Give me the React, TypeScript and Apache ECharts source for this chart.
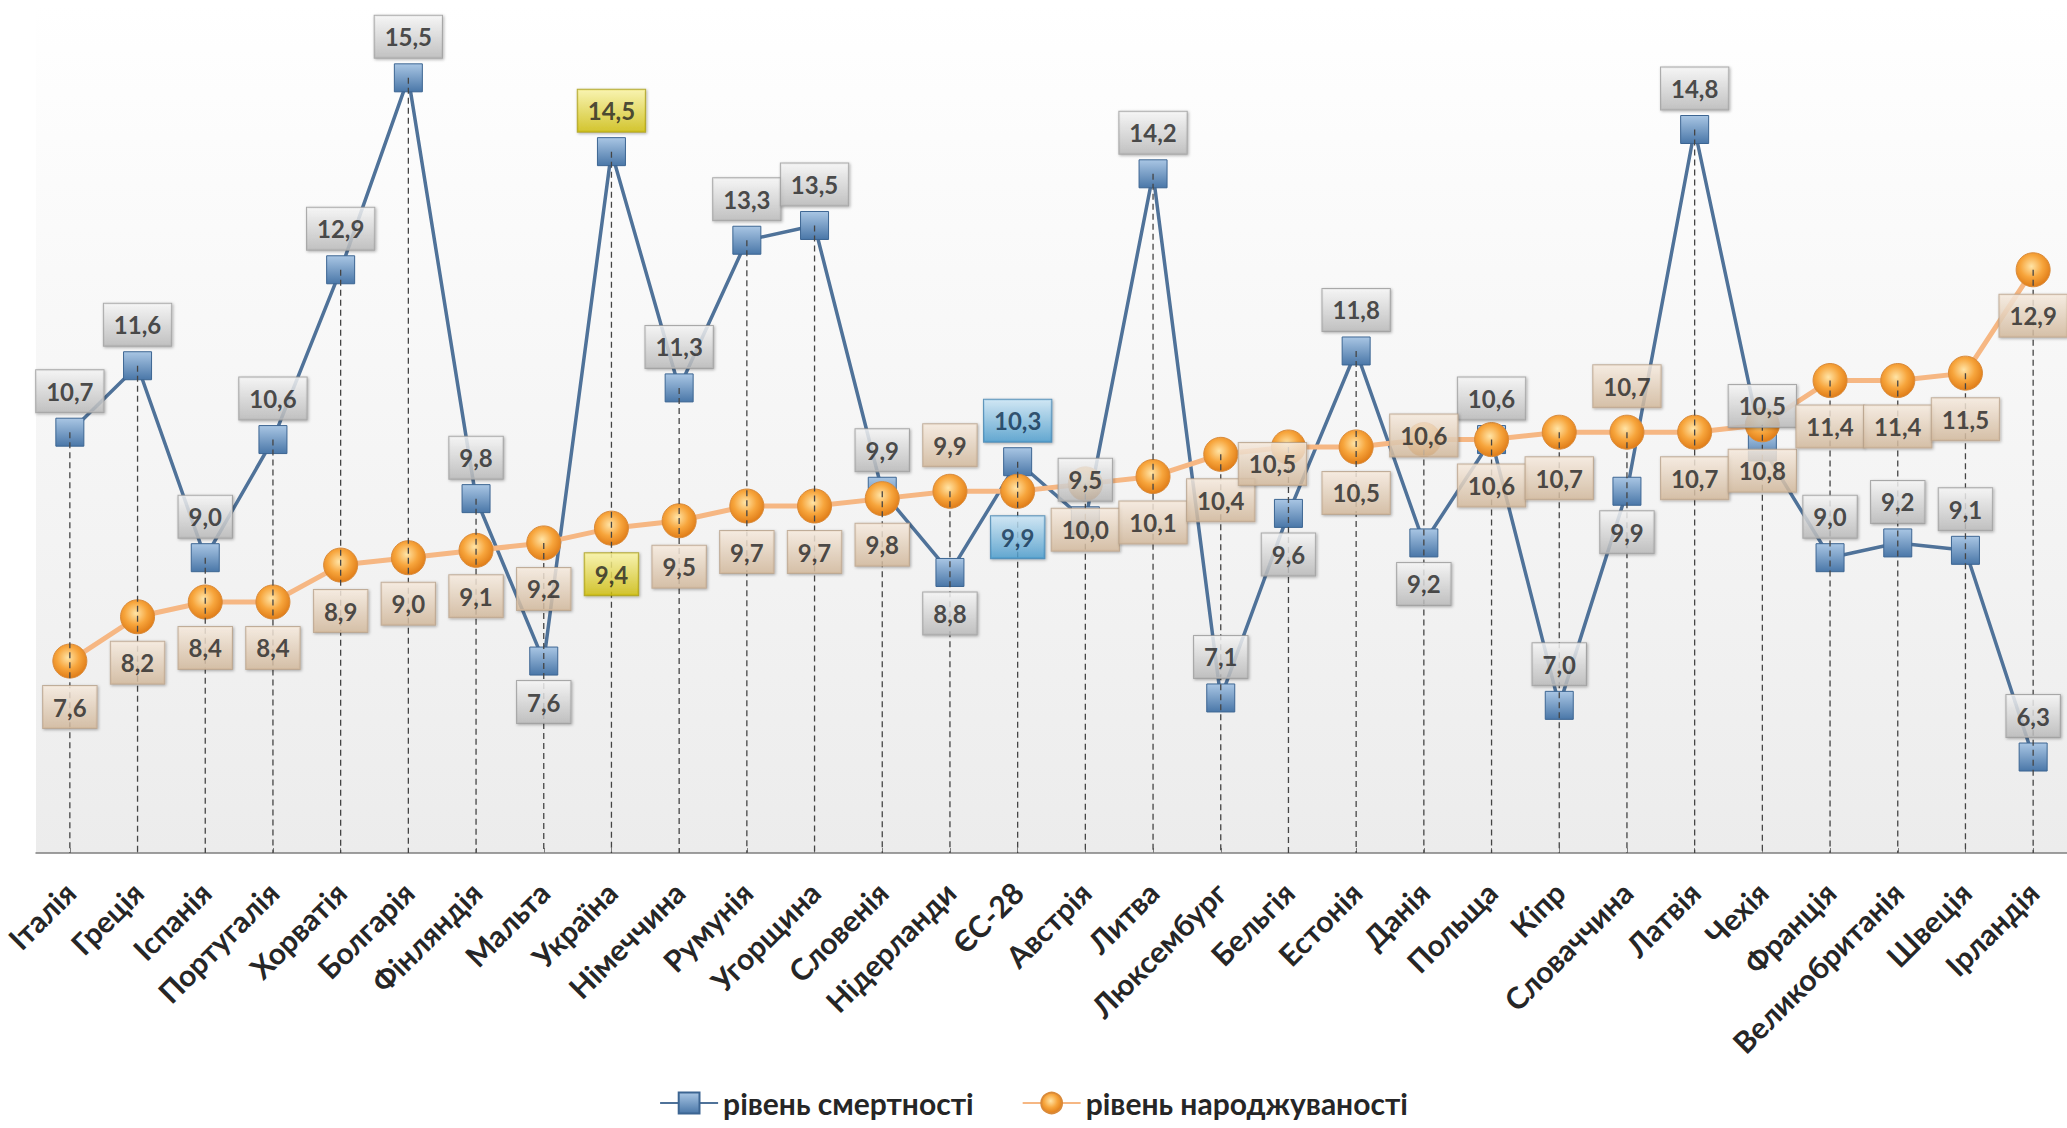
import React, { useEffect, useRef } from "react";
import * as echarts from "echarts";

const categories = [
  "Італія", "Греція", "Іспанія", "Португалія", "Хорватія", "Болгарія", "Фінляндія", "Мальта",
  "Україна", "Німеччина", "Румунія", "Угорщина", "Словенія", "Нідерланди", "ЄС-28", "Австрія",
  "Литва", "Люксембург", "Бельгія", "Естонія", "Данія", "Польща", "Кіпр", "Словаччина",
  "Латвія", "Чехія", "Франція", "Великобританія", "Швеція", "Ірландія",
];

const deathRate = [
  10.7, 11.6, 9.0, 10.6, 12.9, 15.5, 9.8, 7.6, 14.5, 11.3, 13.3, 13.5, 9.9, 8.8, 10.3,
  9.5, 14.2, 7.1, 9.6, 11.8, 9.2, 10.6, 7.0, 9.9, 14.8, 10.5, 9.0, 9.2, 9.1, 6.3,
];

const birthRate = [
  7.6, 8.2, 8.4, 8.4, 8.9, 9.0, 9.1, 9.2, 9.4, 9.5, 9.7, 9.7, 9.8, 9.9, 9.9,
  10.0, 10.1, 10.4, 10.5, 10.5, 10.6, 10.6, 10.7, 10.7, 10.7, 10.8, 11.4, 11.4, 11.5, 12.9,
];

const seriesNames = ["рівень смертності", "рівень народжуваності"];

// label placement exceptions (by category)
const deathBelow = ["Мальта", "Нідерланди", "Бельгія", "Данія", "Словаччина"];
const birthAbove = ["Нідерланди", "Словаччина"];
const birthInside: Record<string, number[]> = { "Данія": [0, -4], "Бельгія": [-16, 17] };
const highlightYellow = "Україна";
const highlightBlue = "ЄС-28";

const FONT = "Lato, 'Noto Sans', sans-serif";
const fmt = (v: number) => v.toFixed(1).replace(".", ",");

const grad = (a: string, b: string) =>
  new echarts.graphic.LinearGradient(0, 0, 0, 1, [
    { offset: 0, color: a },
    { offset: 1, color: b },
  ]);

const greyBox = () => grad("#fbfbfb", "#bdbdbd");
const beigeBox = () => grad("#fcf0e3", "#d6bc9f");
const yellowBox = () => grad("#fff9a8", "#d2c10e");
const blueBox = () => grad("#cfeafa", "#4d9fd0");

const baseLabel = {
  show: true,
  fontFamily: FONT,
  fontWeight: "bold" as const,
  fontSize: 24,
  lineHeight: 26,
  color: "#222",
  padding: [8, 10, 8, 10],
  borderColor: "#9a9a9a",
  borderWidth: 1,
  shadowColor: "rgba(0,0,0,0.35)",
  shadowBlur: 3,
  shadowOffsetX: 1,
  shadowOffsetY: 1,
};

export default function App() {
  const ref = useRef<HTMLDivElement>(null);

  useEffect(() => {
    document.body.style.margin = "0";
    if (!ref.current) return;
    const chart = echarts.init(ref.current, undefined, { renderer: "svg" });

    const deathLabels = deathRate.map((v, i) => {
      const c = categories[i];
      let bg: any = greyBox();
      let color = "#222";
      let border = "#9a9a9a";
      if (c === highlightYellow) { bg = yellowBox(); border = "#a69a10"; }
      if (c === highlightBlue) { bg = blueBox(); color = "#10304f"; border = "#3d7fae"; }
      return {
        value: [i, v],
        label: {
          ...baseLabel,
          formatter: fmt(v),
          position: deathBelow.includes(c) ? "bottom" : "top",
          distance: 6,
          backgroundColor: bg,
          borderColor: border,
          color,
        },
      };
    });

    const birthLabels = birthRate.map((v, i) => {
      const c = categories[i];
      let bg: any = beigeBox();
      let color = "#222";
      let border = "#b8a088";
      if (c === highlightYellow) { bg = yellowBox(); border = "#a69a10"; }
      if (c === highlightBlue) { bg = blueBox(); color = "#10304f"; border = "#3d7fae"; }
      const inside = birthInside[c];
      return {
        value: [i, v],
        label: {
          ...baseLabel,
          formatter: fmt(v),
          position: inside ? "inside" : birthAbove.includes(c) ? "top" : "bottom",
          offset: inside || [0, 0],
          distance: 8,
          backgroundColor: bg,
          borderColor: border,
          color,
        },
      };
    });

    const dropData = categories.map((_, i) => [i, Math.max(deathRate[i], birthRate[i])]);

    chart.setOption({
      animation: false,
      backgroundColor: "#ffffff",
      grid: {
        left: 36,
        right: 0,
        top: 4,
        bottom: 275,
        show: true,
        borderWidth: 0,
        backgroundColor: grad("#ffffff", "#ececec"),
      },
      legend: {
        data: seriesNames,
        left: "center",
        top: 1082,
        itemWidth: 58,
        itemHeight: 26,
        itemGap: 48,
        textStyle: { fontFamily: FONT, fontWeight: "bold", fontSize: 30, lineHeight: 32, color: "#262626" },
      },
      xAxis: {
        type: "category",
        data: categories,
        boundaryGap: true,
        axisLine: { lineStyle: { color: "#7f7f7f", width: 1.5 } },
        axisTick: { show: true, inside: true, length: 5, alignWithLabel: true, lineStyle: { color: "#7f7f7f" } },
        axisLabel: {
          interval: 0,
          rotate: 45,
          margin: 34,
          fontFamily: FONT,
          fontWeight: "bold",
          fontSize: 30,
          color: "#262626",
        },
        splitLine: { show: false },
      },
      yAxis: {
        type: "value",
        min: 5,
        max: 16.5,
        show: false,
        splitLine: { show: false },
      },
      series: [
        {
          type: "line",
          name: seriesNames[0],
          z: 3,
          data: deathRate,
          symbol: "rect",
          symbolSize: 28,
          lineStyle: { color: "#4f7299", width: 3.5 },
          itemStyle: {
            color: grad("#a9c6e4", "#4a77a8"),
            borderColor: "#3c6592",
            borderWidth: 1,
          },
        },
        {
          type: "line",
          name: seriesNames[1],
          z: 4,
          data: birthRate,
          symbol: "circle",
          symbolSize: 34,
          lineStyle: { color: "#f6b783", width: 5 },
          itemStyle: {
            color: new echarts.graphic.RadialGradient(0.45, 0.4, 0.6, [
              { offset: 0, color: "#ffe4a6" },
              { offset: 0.55, color: "#f7a53c" },
              { offset: 1, color: "#e07d18" },
            ]),
            borderColor: "#d98a3a",
            borderWidth: 1,
          },
        },
        {
          type: "custom",
          name: "drop",
          silent: true,
          z: 5,
          data: dropData,
          renderItem: (_params: any, api: any) => {
            const top = api.coord([api.value(0), api.value(1)]);
            const bottom = api.coord([api.value(0), 5]);
            return {
              type: "line",
              shape: { x1: top[0], y1: top[1], x2: bottom[0], y2: bottom[1] },
              style: { stroke: "#454545", lineWidth: 1.3, lineDash: [6, 4] },
            };
          },
        },
        {
          type: "scatter",
          name: "deathLabels",
          silent: true,
          z: 6,
          symbol: "rect",
          symbolSize: 28,
          itemStyle: { color: "rgba(0,0,0,0)" },
          data: deathLabels,
        },
        {
          type: "scatter",
          name: "birthLabels",
          silent: true,
          z: 7,
          symbol: "circle",
          symbolSize: 34,
          itemStyle: { color: "rgba(0,0,0,0)" },
          data: birthLabels,
        },
      ],
    });

    return () => chart.dispose();
  }, []);

  return <div ref={ref} style={{ width: 2067, height: 1128 }} />;
}
